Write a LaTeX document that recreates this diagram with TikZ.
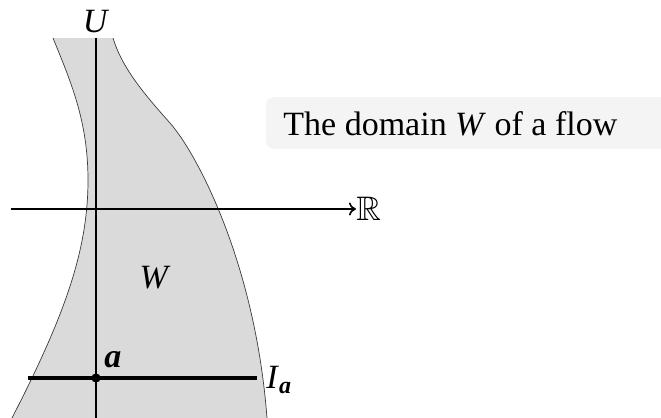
\documentclass[tikz,border=0pt]{standalone}
\usepackage{amssymb}
\usepackage{fontspec}
\setmainfont{Liberation Serif}
\usetikzlibrary{arrows.meta}
\definecolor{domfill}{HTML}{DADADA}
\definecolor{capbg}{HTML}{F4F4F4}
\definecolor{bound}{HTML}{3A3A3A}
\begin{document}
\begin{tikzpicture}[x=0.5pt,y=-0.5pt,
  lbl/.style={inner sep=0pt, font=\fontsize{17}{20}\selectfont},
  boundary/.style={draw=bound, line width=0.35pt},
  axisline/.style={draw=black, line width=0.8pt},
  intline/.style={draw=black, line width=1.6pt},
  ptdot/.style={circle, fill=black, inner sep=0pt, minimum size=4.6pt}]
\useasboundingbox (0,0) rectangle (661,418);
% caption background
\begin{scope}
\clip (0,0) rectangle (661,418);
\fill[capbg, rounded corners=4pt] (266,97) rectangle (700,149);
\end{scope}
\node[lbl, anchor=base west] (cap) at (283,135) {The domain \textit{W} of a flow};
% domain W
\begin{scope}
\clip (0,0) rectangle (661,418);
\fill[domfill] (53,38) .. controls (70,80) and (88,120) .. (88,180)
  .. controls (88,250) and (65,315) .. (12,418) -- (267,418)
  .. controls (255,260) and (195,151) .. (170,123)
  .. controls (145,95) and (122,68) .. (113,38) -- cycle;
\draw[boundary] (53,38) .. controls (70,80) and (88,120) .. (88,180)
  .. controls (88,250) and (65,315) .. (12,418);
\draw[boundary] (267,418) .. controls (255,260) and (195,151) .. (170,123)
  .. controls (145,95) and (122,68) .. (113,38);
\end{scope}
% axes
\coordinate (xs) at (11,209);
\node[lbl, anchor=west] (R) at (356,209) {$\mathbb{R}$};
\draw[axisline, -{To[length=3.5pt,width=6.5pt]}] (xs) -- (R.west);
\coordinate (vt) at (96,38);
\coordinate (vb) at (96,418);
\draw[axisline] (vt) -- (vb);
\node[lbl] (U) at (96,22) {\textit{U}};
\node[lbl] (W) at (155,278) {\textit{W}};
% interval I_a
\coordinate (il) at (28,378);
\coordinate (ir) at (257,378);
\draw[intline] (il) -- (ir);
\node[ptdot] (adot) at (96,378) {};
\node[lbl] (alab) at (113,360) {\textbf{\textit{a}}};
\node[lbl, anchor=west] (Ia) at (266,380) {\textit{I}\raisebox{-0.35ex}{\fontsize{12}{14}\selectfont\textbf{\textit{a}}}};
\end{tikzpicture}
\end{document}
